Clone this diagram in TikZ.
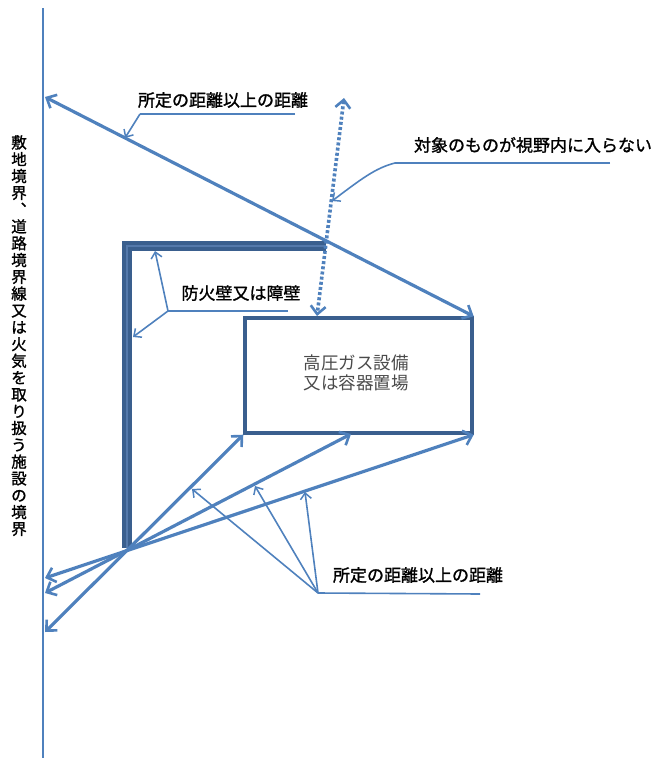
\documentclass[tikz,border=0pt]{standalone}
\usepackage{fontspec}
\newfontfamily\cjk{Noto Sans CJK JP}
\newfontfamily\cjkb[FakeBold=1.3]{Noto Sans CJK JP}
\usetikzlibrary{arrows.meta}
\definecolor{lineblue}{HTML}{4F81BD}
\definecolor{wallblue}{HTML}{3A5F8E}
\definecolor{wallinner}{HTML}{5479AB}
\definecolor{boxtext}{HTML}{4A4A4A}
\tikzset{
  barb/.tip={Straight Barb[length=8pt,width=15pt,line width=2.6pt]},
  smallbarb/.tip={Straight Barb[length=6pt,width=11pt,line width=1.5pt]},
  distarrow/.style={draw=lineblue,line width=3.2pt,barb-barb},
  leader/.style={draw=lineblue,line width=1.6pt},
  leadarrow/.style={leader,-smallbarb},
  lbl/.style={font=\cjkb\fontsize{17}{19}\selectfont,text=black,inner sep=0pt},
}
\begin{document}
\begin{tikzpicture}[x=1pt,y=-1pt]
\useasboundingbox (0,0) rectangle (656,758);
% boundary line
\coordinate (btop) at (43,8);
\coordinate (bbot) at (43,758);
\draw[lineblue,line width=2pt] (btop) -- (bbot);
% vertical boundary label
\node[anchor=north,align=center,inner sep=0pt,font=\cjkb\fontsize{15.5}{16.8}\selectfont] (vlabel) at (19,135)
 {敷\\地\\境\\界\\︑\\道\\路\\境\\界\\線\\又\\は\\火\\気\\を\\取\\り\\扱\\う\\施\\設\\の\\境\\界};
% equipment box
\node[draw=wallblue,line width=3.4pt,minimum width=227pt,minimum height=115pt,inner sep=0pt] (box) at (358.5,375.5) {};
\node[align=center,font=\cjk\fontsize{17.5}{20}\selectfont,text=boxtext,inner sep=0pt] (boxtxt) at (356,373) {高圧ガス設備\\又は容器置場};
% wall
\coordinate (wc) at (326,246);
\coordinate (wk) at (127,246);
\coordinate (wb) at (127,548);
\draw[wallblue,line width=10pt] (wc) -- (wk) -- (wb);
\draw[wallinner,line width=2.5pt] (wc) -- (wk) -- (wb);
% top distance arrow
\coordinate (tl) at (45,97);
\draw[distarrow] (tl) -- (box.north east);
% dotted arrow
\coordinate (dt) at (344,98);
\coordinate (db) at (317,316);
\draw[draw=lineblue,line width=3.6pt,dash pattern=on 3pt off 2.2pt,barb-barb] (dt) -- (db);
% lower distance arrows
\coordinate (l1) at (45,578);
\coordinate (l2) at (45,593);
\coordinate (l3) at (45,632);
\coordinate (bm) at (351,434);
\draw[distarrow] (l3) -- (box.south west);
\draw[distarrow] (l2) -- (bm);
\draw[distarrow] (l1) -- (box.south east);
% top label
\node[lbl] (t1) at (223,100) {所定の距離以上の距離};
\coordinate (t1a) at (295,114);
\coordinate (t1b) at (140,114);
\coordinate (t1tip) at (125,138);
\draw[leader] (t1a) -- (t1b);
\draw[leadarrow] (t1b) -- (t1tip);
% right label
\node[lbl] (t2) at (533,145) {対象のものが視野内に入らない};
\coordinate (t2a) at (610,163);
\coordinate (t2b) at (395,163);
\coordinate (t2tip) at (332,201);
\draw[leader] (t2a) -- (t2b);
\draw[leadarrow] (t2b) .. controls (375,168) and (360,180) .. (t2tip);
% wall label
\node[lbl] (t3) at (241,293) {防火壁又は障壁};
\coordinate (t3a) at (288,311);
\coordinate (t3b) at (168,311);
\coordinate (t3tip1) at (155,251);
\coordinate (t3tip2) at (133,337);
\draw[leader] (t3a) -- (t3b);
\draw[leadarrow] (t3b) -- (t3tip1);
\draw[leadarrow] (t3b) -- (t3tip2);
% bottom label
\node[lbl] (t4) at (418,575) {所定の距離以上の距離};
\coordinate (t4a) at (480,594);
\coordinate (t4b) at (318,593);
\coordinate (t4tip1) at (192,489);
\coordinate (t4tip2) at (255,486);
\coordinate (t4tip3) at (305,492);
\draw[leader] (t4a) -- (t4b);
\draw[leadarrow] (t4b) -- (t4tip1);
\draw[leadarrow] (t4b) -- (t4tip2);
\draw[leadarrow] (t4b) -- (t4tip3);
\end{tikzpicture}
\end{document}
